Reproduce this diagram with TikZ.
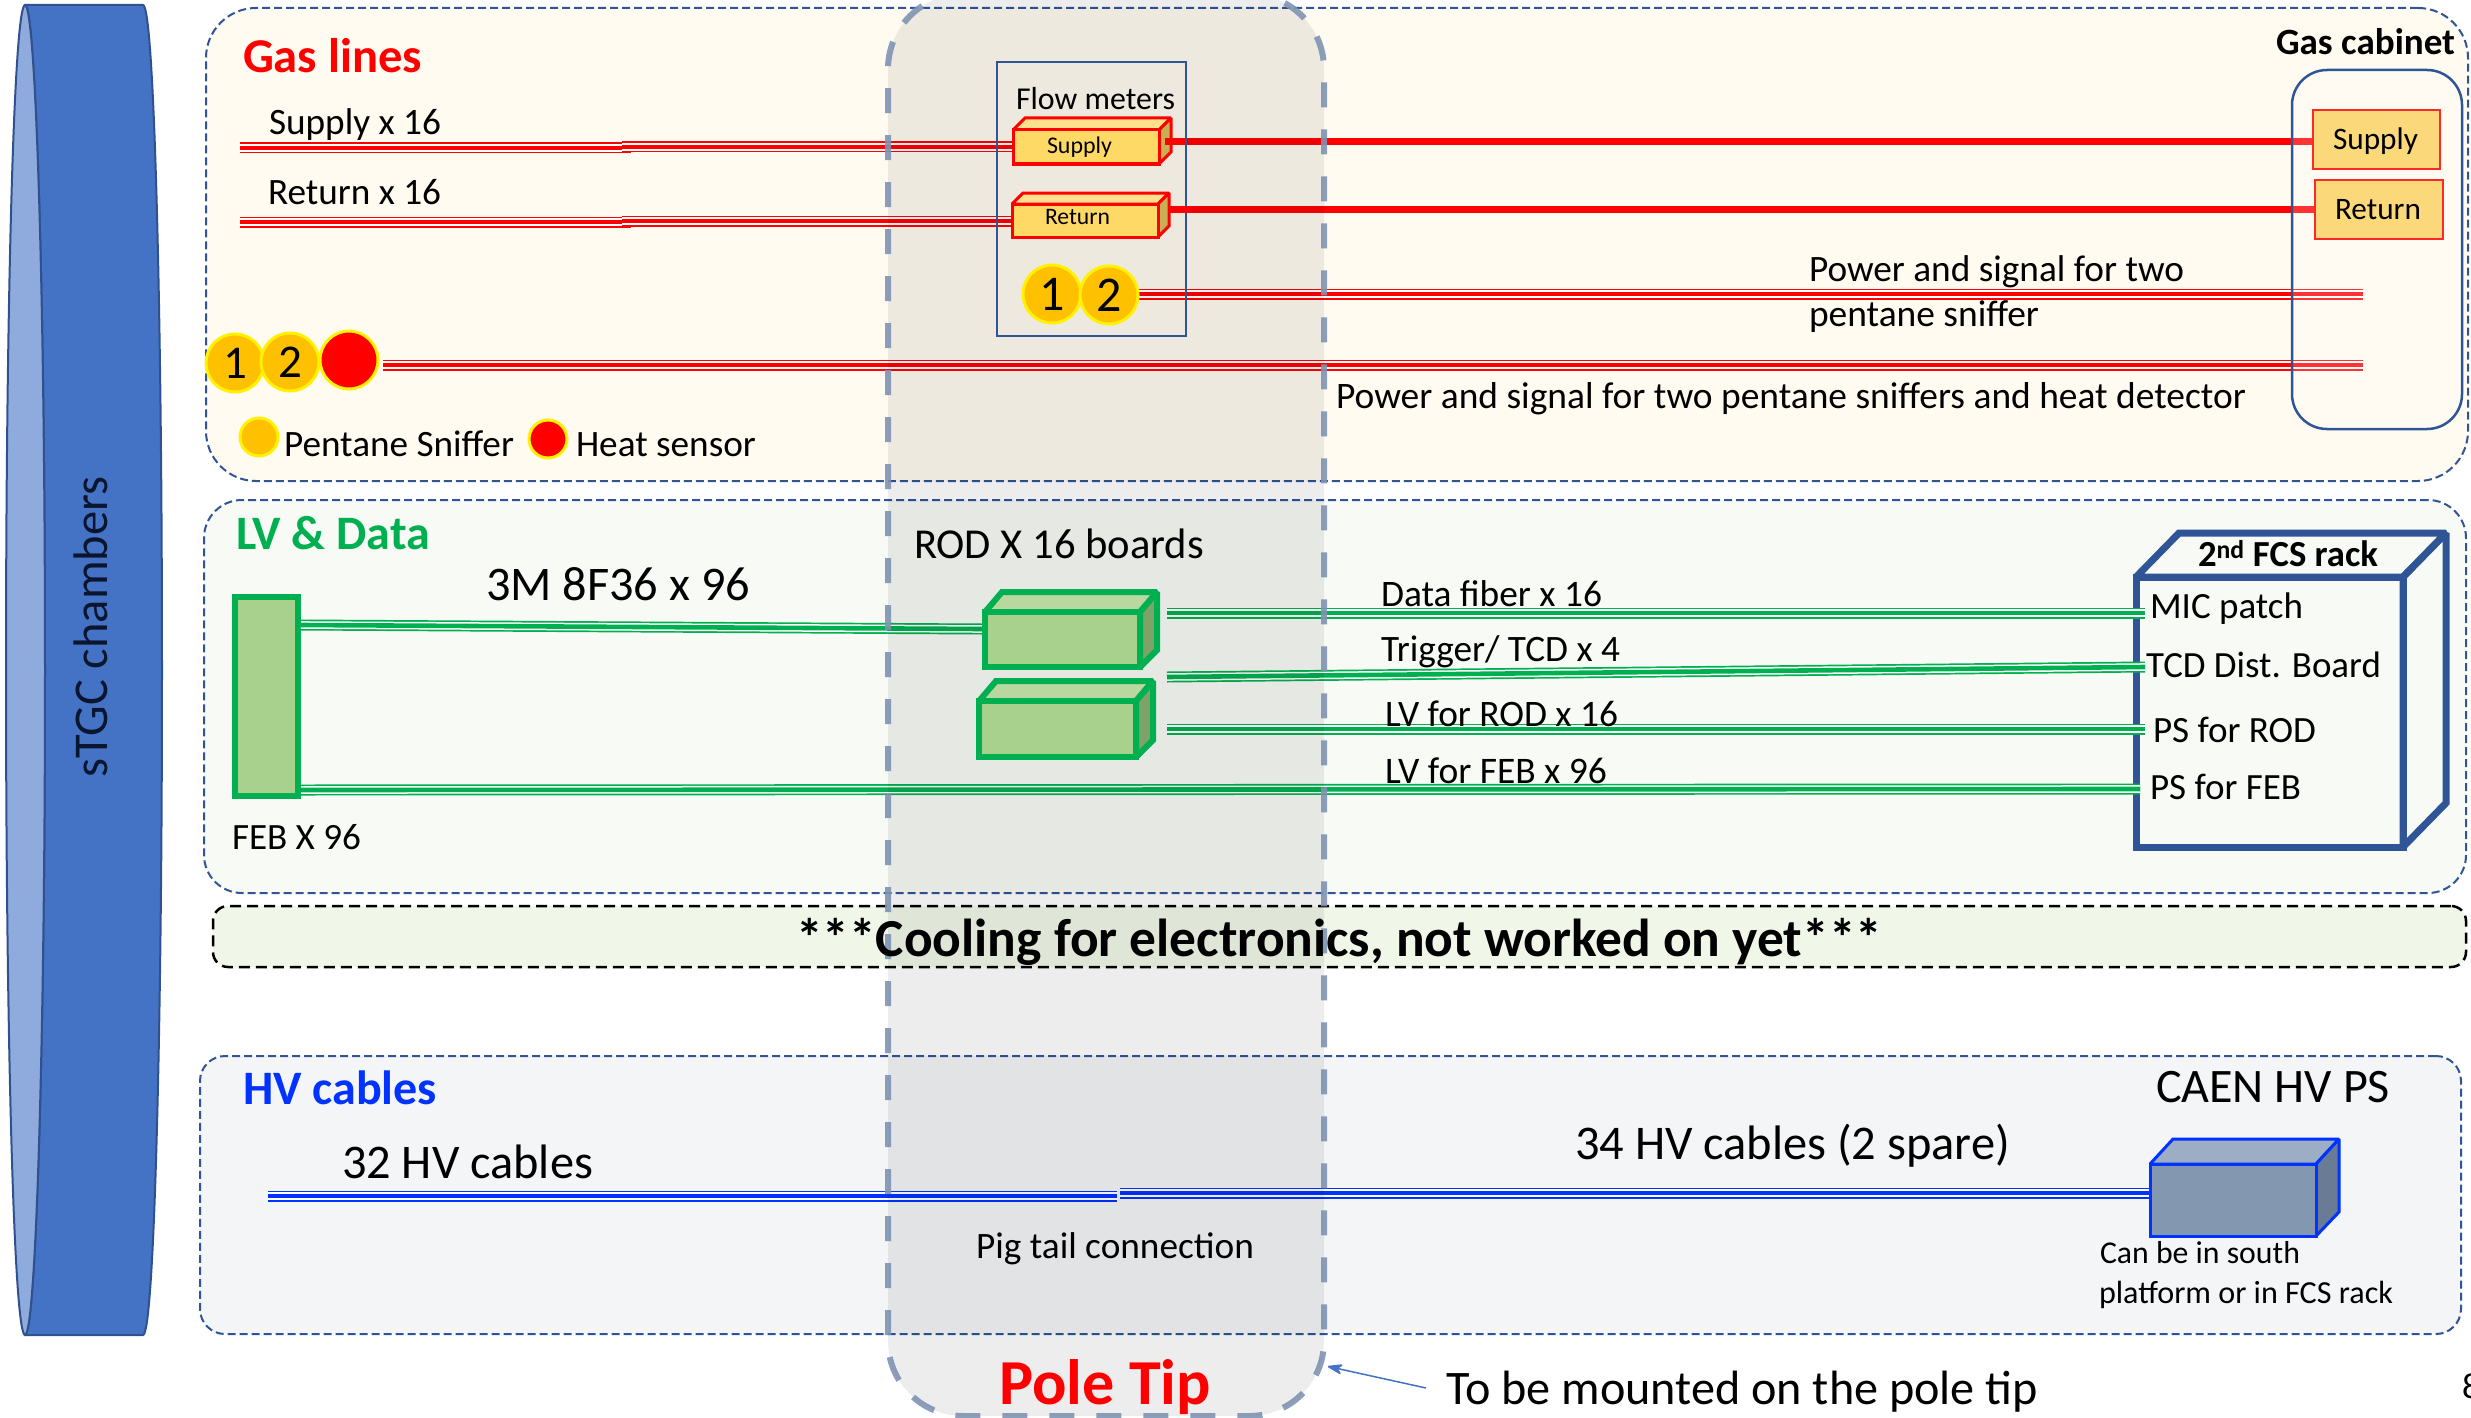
\documentclass[tikz,border=0pt]{standalone}
\usepackage{fontspec}
\usepackage{graphicx}
\setmainfont{Carlito}
\usetikzlibrary{arrows.meta,calc}
\definecolor{navy}{HTML}{2F5597}
\definecolor{poleedge}{HTML}{7F93B2}
\definecolor{gasbg}{HTML}{FFFBF1}
\definecolor{lvbg}{HTML}{F7FAF5}
\definecolor{coolbg}{HTML}{F0F7E8}
\definecolor{hvbg}{HTML}{F4F5F7}
\definecolor{gold}{HTML}{FFC000}
\definecolor{flowfill}{HTML}{FFD966}
\definecolor{flowtop}{HTML}{FFE08C}
\definecolor{flowside}{HTML}{C9AE54}
\definecolor{gr}{HTML}{00B050}
\definecolor{hvblue}{HTML}{0033FF}
\definecolor{cylbody}{HTML}{4472C4}
\definecolor{cylend}{HTML}{8FAADC}
\definecolor{cyledge}{HTML}{2F528F}
\definecolor{chamtext}{HTML}{0A1630}
\definecolor{febfill}{HTML}{A9D18E}
\definecolor{febtop}{HTML}{B8D8A0}
\definecolor{febside}{HTML}{7DA369}
\definecolor{cabred}{HTML}{FF2828}
\definecolor{cabfill}{HTML}{FBD97A}
\definecolor{psfront}{HTML}{8497B0}
\definecolor{pstop}{HTML}{9DADC4}
\definecolor{psside}{HTML}{6A7B96}
\definecolor{ptr}{HTML}{4472C4}
\tikzset{
  every node/.style={inner sep=0pt,outer sep=0pt},
  tripleline/.style={line width=11pt,draw=#1,postaction={draw=white,line width=7.6pt},postaction={draw=#1,line width=4.6pt}},
  thickline/.style={draw=red,line width=7pt},
  panel/.style={rectangle,draw=navy,line width=2pt,dash pattern=on 8pt off 4pt},
  sniffer/.style={circle,fill=gold,draw=yellow,line width=3pt,minimum size=#1},
  heater/.style={circle,fill=red,draw=yellow,line width=3pt,minimum size=#1},
}
% \pxbox{name}{style}{x1}{y1}{x2}{y2}
\newcommand{\pxbox}[6]{%
  \pgfmathsetmacro{\bw}{#5-#3}\pgfmathsetmacro{\bh}{#6-#4}%
  \pgfmathsetmacro{\bx}{(#3+#5)/2}\pgfmathsetmacro{\by}{(#4+#6)/2}%
  \node[#2,minimum width=\bw pt,minimum height=\bh pt] (#1) at (\bx,\by) {};}
% \lab{name}{x1}{x2}{baseline}{style}{text}
\newcommand{\lab}[6]{%
  \pgfmathsetmacro{\lw}{#3-#2}%
  \node[anchor=base west,#5] (#1) at (#2,{#4+1.5}) {\resizebox{\lw pt}{!}{\fontsize{40}{48}\selectfont #6}};}
% \cube{name}{x1}{y1}{x2}{y2}{xb}{yb}{yr}{stroke}{front}{top}{side}
\newcommand{\cube}[9]{%
  \def\cubename{#1}\def\cx{#2}\def\cy{#3}\def\cxx{#4}\def\cyy{#5}\def\cxb{#6}\def\cyb{#7}\def\cyr{#8}%
  \tikzset{cubestroke/.style={#9}}\cubecont}
\newcommand{\cubecont}[3]{%
  \pgfmathsetmacro{\cxt}{\cx+\cxb-\cxx}%
  \path[cubestroke,#2] (\cx,\cy) -- (\cxt,\cyb) -- (\cxb,\cyb) -- (\cxx,\cy) -- cycle;
  \path[cubestroke,#3] (\cxx,\cy) -- (\cxb,\cyb) -- (\cxb,\cyr) -- (\cxx,\cyy) -- cycle;
  \pxbox{\cubename}{rectangle,cubestroke,#1}{\cx}{\cy}{\cxx}{\cyy}}
\begin{document}
\begin{tikzpicture}[x=1pt,y=-1pt,line join=miter,miter limit=1.5]
\useasboundingbox (0,0) rectangle (2471,1418);
% chambers
\draw[fill=cylbody,draw=cyledge,line width=2pt]
  (25,5) -- (143,5) .. controls (154,5) and (162,303) .. (162,670) .. controls (162,1037) and (154,1335) .. (143,1335) -- (25,1335) .. controls (36,1335) and (45,1037) .. (45,670) .. controls (45,303) and (36,5) .. (25,5) -- cycle;
\draw[fill=cylend,draw=cyledge,line width=2pt]
  (25,5) .. controls (36,5) and (45,303) .. (45,670) .. controls (45,1037) and (36,1335) .. (25,1335) .. controls (14,1335) and (6,1037) .. (6,670) .. controls (6,303) and (14,5) .. (25,5) -- cycle;
\node[rotate=90,anchor=base,text=chamtext] (chamberlab) at (107.5,627) {\fontsize{48.5}{50}\selectfont sTGC chambers};
% panels
\pxbox{gaspanel}{panel,fill=gasbg,rounded corners=50pt}{206}{8}{2468}{481}
\pxbox{lvpanel}{panel,fill=lvbg,rounded corners=38pt}{204}{500}{2466}{893}
\pxbox{coolpanel}{rectangle,draw=black,line width=2.5pt,dash pattern=on 11pt off 6pt,fill=coolbg,rounded corners=15pt}{213}{906}{2466}{967}
\pxbox{hvpanel}{panel,fill=hvbg,rounded corners=25pt}{200}{1056}{2461}{1334}
% anchors for gas ends
\pxbox{gasfrontS}{rectangle}{1013}{130}{1159}{164}
\pxbox{gasfrontR}{rectangle}{1012}{204}{1158}{237}
\pxbox{cabS}{rectangle}{2313}{110}{2440}{169}
\pxbox{cabR}{rectangle}{2315}{180}{2443}{239}
% gas lines
\coordinate (supL) at (240,148);
\coordinate (supM) at (631,148);
\coordinate (supN) at (622,147);
\coordinate (retL) at (240,222);
\coordinate (retM) at (631,222);
\coordinate (retN) at (622,221);
\coordinate (supE) at (1165,142);
\coordinate (retE) at (1170,209);
\draw[tripleline=red] (supL) -- (supM);
\draw[tripleline=red] (supN) -- (supN -| gasfrontS.west);
\draw[tripleline=red] (retL) -- (retM);
\draw[tripleline=red] (retN) -- (retN -| gasfrontR.west);
\draw[thickline] (supE) -- (supE -| cabS.west);
\draw[thickline] (retE) -- (retE -| cabR.west);
\coordinate (snA) at (1138,294);
\coordinate (snB) at (2363,294);
\coordinate (htA) at (383,365);
\coordinate (htB) at (2363,365);
\draw[tripleline=red] (snA) -- (snB);
\draw[tripleline=red] (htA) -- (htB);
% LV lines
\pxbox{febblock}{rectangle,draw=gr,line width=6pt,fill=febfill}{235}{597}{298}{796}
\coordinate (f1a) at (301,625);
\coordinate (f1b) at (982,629);
\coordinate (f2a) at (301,790);
\coordinate (f2b) at (2140,789);
\coordinate (d1a) at (1167,613);
\coordinate (d1b) at (2145,613);
\coordinate (d2a) at (1167,677);
\coordinate (d2b) at (2145,667);
\coordinate (d3a) at (1167,729);
\coordinate (d3b) at (2145,729);
% FCS rack
\cube{rack}{2136}{577}{2403}{847}{2446}{533}{803}{draw=navy,line width=7pt}{}{}{}
\foreach \a/\b in {f1a/f1b,f2a/f2b,d1a/d1b,d2a/d2b,d3a/d3b}{\draw[tripleline=gr] (\a) -- (\b);}
% HV lines
\coordinate (hvA) at (268,1196);
\coordinate (hvB) at (1117,1196);
\coordinate (hvC) at (1120,1193);
\coordinate (hvD) at (2150,1193);
\draw[tripleline=hvblue] (hvA) -- (hvB);
\draw[tripleline=hvblue] (hvC) -- (hvD);
% pole tip overlay
\pxbox{poletip}{rectangle,draw=poleedge,line width=6pt,dash pattern=on 25pt off 22pt,fill=black,fill opacity=.07,draw opacity=.9,rounded corners=75pt}{888}{-6}{1324}{1416}
% flow meters
\pxbox{flowframe}{rectangle,draw=navy,line width=2.5pt}{997}{62}{1186}{336}
\cube{flowS}{1013}{130}{1159}{164}{1171}{118}{152}{draw=red,line width=3pt}{fill=flowfill}{fill=flowtop}{fill=flowside}
\cube{flowR}{1012}{204}{1158}{237}{1169}{193}{226}{draw=red,line width=3pt}{fill=flowfill}{fill=flowtop}{fill=flowside}
\node[sniffer=58pt,font=\fontsize{50}{50}\selectfont] (fs1) at (1052,294) {1};
\node[sniffer=58pt,font=\fontsize{50}{50}\selectfont] (fs2) at (1109,295) {2};
\draw[thickline] (supE) -- ++(20,0);
\draw[thickline] (retE) -- ++(20,0);
% left sensors
\node[sniffer=58pt,font=\fontsize{47}{47}\selectfont] (ls1) at (235,363) {1};
\node[sniffer=58pt,font=\fontsize{47}{47}\selectfont] (ls2) at (290,362) {2};
\node[heater=58pt] (lh) at (349,360) {};
\node[sniffer=38pt] (legS) at (259,437) {};
\node[heater=38pt] (legH) at (548,439) {};
% ROD cubes
\cube{rod1}{985}{612}{1140}{667}{1157}{592}{650}{draw=gr,line width=6pt}{fill=febfill}{fill=febtop}{fill=febside}
\cube{rod2}{979}{701}{1136}{757}{1153}{681}{740}{draw=gr,line width=6pt}{fill=febfill}{fill=febtop}{fill=febside}
% gas cabinet
\pxbox{cabinet}{rectangle,draw=navy,line width=2.5pt,fill=white,fill opacity=.2,draw opacity=1,rounded corners=35pt}{2292}{70}{2462}{429}
\pxbox{cabSbox}{rectangle,draw=cabred,line width=2.5pt,fill=cabfill}{2313}{110}{2440}{169}
\pxbox{cabRbox}{rectangle,draw=cabred,line width=2.5pt,fill=cabfill}{2315}{180}{2443}{239}
% HV PS
\cube{hvps}{2150}{1164}{2316}{1236}{2339}{1139}{1212}{draw=hvblue,line width=3pt}{fill=psfront}{fill=pstop}{fill=psside}
% labels gas
\lab{tgas}{243}{422}{71}{text=red,font=\bfseries}{Gas lines}
\lab{tsup}{269}{441}{133}{}{Supply x 16}
\lab{tret}{268}{441}{203}{}{Return x 16}
\lab{tflow}{1016}{1175}{108}{}{Flow meters}
\lab{tfs}{1047}{1112}{152}{}{Supply}
\lab{tfr}{1045}{1110}{223}{}{Return}
\lab{tcab}{2276}{2455}{53}{font=\bfseries}{Gas cabinet}
\lab{tcs}{2333}{2418}{148}{}{Supply}
\lab{tcr}{2335}{2421}{218}{}{Return}
\lab{tp1}{1809}{2184}{280}{}{Power and signal for two}
\lab{tp2}{1809}{2039}{325}{}{pentane sniffer}
\lab{tp3}{1336}{2246}{407}{}{Power and signal for two pentane sniffers and heat detector}
\lab{tleg1}{284}{514}{455}{}{Pentane Sniffer}
\lab{tleg2}{576}{756}{455}{}{Heat sensor}
% labels LV
\lab{tlv}{236}{430}{548}{text=gr,font=\bfseries}{LV \& Data}
\lab{t3m}{486}{750}{599}{}{3M 8F36 x 96}
\lab{trod}{914}{1204}{557}{}{ROD X 16 boards}
\lab{tfeb}{232}{361}{848}{}{FEB X 96}
\lab{tdf}{1381}{1602}{605}{}{Data fiber x 16}
\lab{ttr}{1381}{1620}{660}{}{Trigger/ TCD x 4}
\lab{tlr}{1385}{1618}{725}{}{LV for ROD x 16}
\lab{tlf}{1385}{1607}{782}{}{LV for FEB x 96}
\lab{tfcs}{2198}{2378}{565}{font=\bfseries}{2\textsuperscript{nd} FCS rack}
\lab{tmic}{2150}{2303}{617}{}{MIC patch}
\lab{ttcd}{2146}{2381}{676}{}{TCD Dist. Board}
\lab{tpsr}{2153}{2316}{741}{}{PS for ROD}
\lab{tpsf}{2150}{2301}{798}{}{PS for FEB}
\lab{tcool}{796}{1882}{955}{font=\bfseries}{***Cooling for electronics, not worked on yet***}
% labels HV
\lab{thv}{243}{437}{1103}{text=hvblue,font=\bfseries}{HV cables}
\lab{t32}{342}{593}{1177}{}{32 HV cables}
\lab{t34}{1575}{2010}{1158}{}{34 HV cables (2 spare)}
\lab{tcaen}{2156}{2390}{1101}{}{CAEN HV PS}
\lab{tpig}{976}{1254}{1257}{}{Pig tail connection}
\lab{tcan}{2100}{2300}{1262}{}{Can be in south}
\lab{tplat}{2099}{2393}{1302}{}{platform or in FCS rack}
\lab{tpole}{999}{1211}{1403}{text=red,font=\bfseries}{Pole Tip}
\lab{tmount}{1446}{2038}{1403}{}{To be mounted on the pole tip}
\node[anchor=base west,font=\fontsize{36}{36}\selectfont] (pagenum) at (2462,1398) {8};
% pointer
\coordinate (ptrA) at (1426,1388);
\coordinate (ptrB) at (1326,1366);
\draw[draw=ptr,fill=ptr,line width=1.5pt,-{Stealth[length=18pt,width=12pt]}] (ptrA) -- (ptrB);
\end{tikzpicture}
\end{document}
